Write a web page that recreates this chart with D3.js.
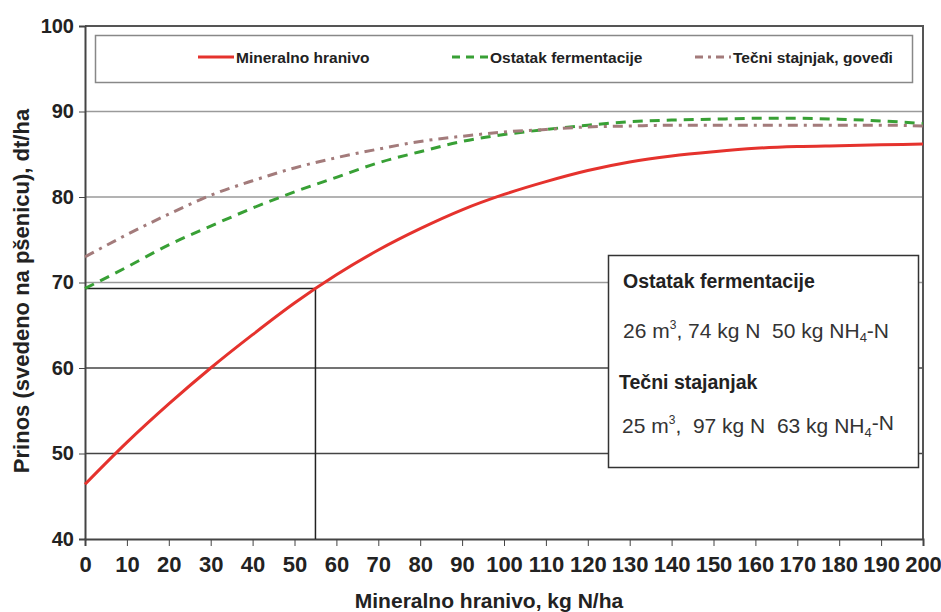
<!DOCTYPE html>
<html>
<head>
<meta charset="utf-8">
<script src="https://cdn.jsdelivr.net/npm/d3@7"></script>
<style>
  body { margin: 0; background: #fff; }
  svg { font-family: "Liberation Sans", Arial, sans-serif; }
  .narrow { font-family: "Liberation Sans Narrow", "Liberation Sans", Arial, sans-serif; }
</style>
</head>
<body>
<div id="chart"></div>
<script>
// podaci ocitani sa slike
var doze = [0, 10, 20, 30, 40, 50, 60, 70, 80, 90, 100, 110, 120, 130, 140, 150, 160, 170, 180, 190, 200];
var mineralno = [46.4, 51.3, 55.8, 60.0, 63.9, 67.6, 70.9, 73.8, 76.3, 78.5, 80.3, 81.8, 83.1, 84.1, 84.8, 85.3, 85.7, 85.9, 86.0, 86.1, 86.2];
var ostatak = [69.3, 71.8, 74.4, 76.6, 78.7, 80.6, 82.3, 84.0, 85.3, 86.5, 87.3, 87.9, 88.4, 88.8, 89.0, 89.1, 89.2, 89.2, 89.1, 88.9, 88.6];
var stajnjak = [73.0, 75.6, 78.0, 80.2, 81.9, 83.4, 84.6, 85.6, 86.5, 87.1, 87.6, 87.9, 88.2, 88.3, 88.4, 88.4, 88.4, 88.4, 88.4, 88.4, 88.3];
var nazivi = ["Mineralno hranivo", "Ostatak fermentacije", "Tečni stajnjak, goveđi"];
var xTicks = d3.range(0, 201, 10);
var yTicks = [40, 50, 60, 70, 80, 90, 100];
var refX = 55, refY = 69.3;

var width = 941, height = 612;
var margin = {top: 26, right: 18, bottom: 73, left: 85};

var svg = d3.select("#chart").append("svg")
  .attr("width", width)
  .attr("height", height);

var x = d3.scaleLinear().domain([0, 200]).range([margin.left, width - margin.right]);
var y = d3.scaleLinear().domain([40, 100]).range([height - margin.bottom, margin.top]);

// mreza
svg.append("g")
  .selectAll("line")
  .data(yTicks.filter(function(d){ return d > 40 && d < 100; }))
  .enter().append("line")
  .attr("x1", x(0)).attr("x2", x(200))
  .attr("y1", function(d){ return y(d); })
  .attr("y2", function(d){ return y(d); })
  .style("stroke", function(d){ return d <= 60 ? "#444" : "#9a9a9a"; })
  .style("stroke-width", 1.5);

// okvir gore i desno
svg.append("path")
  .attr("d", "M" + x(0) + "," + y(100) + "H" + x(200) + "V" + y(40))
  .style("fill", "none")
  .style("stroke", "#555")
  .style("stroke-width", 2);

// osovine
var yAxis = svg.append("g")
  .attr("transform", "translate(" + x(0) + ",0)")
  .call(d3.axisLeft(y).tickValues(yTicks).tickSize(6).tickPadding(5).tickFormat(d3.format("d")));
yAxis.select(".domain").style("stroke", "#444").style("stroke-width", 2);
yAxis.selectAll(".tick line").style("stroke", "#444");
yAxis.selectAll("text")
  .style("font-size", "20px").style("font-weight", "bold").style("fill", "#222");

var xAxis = svg.append("g")
  .attr("transform", "translate(0," + y(40) + ")")
  .call(d3.axisBottom(x).tickValues(xTicks).tickSize(7).tickPadding(10).tickFormat(d3.format("d")));
xAxis.select(".domain").style("stroke", "#444").style("stroke-width", 2);
xAxis.selectAll(".tick line").style("stroke", "#444");
xAxis.selectAll("text")
  .attr("class", "narrow")
  .style("font-size", "22px").style("font-weight", "bold").style("fill", "#222");

// nazivi osovina
svg.append("text")
  .attr("class", "narrow")
  .attr("x", 489).attr("y", 608)
  .attr("text-anchor", "middle")
  .style("font-size", "21px").style("font-weight", "bold").style("fill", "#222")
  .text("Mineralno hranivo, kg N/ha");

svg.append("text")
  .attr("transform", "translate(29,291) rotate(-90)")
  .attr("text-anchor", "middle")
  .style("font-size", "22px").style("font-weight", "bold").style("fill", "#222")
  .text("Prinos (svedeno na pšenicu), dt/ha");

// pomocne linije za 55 kg N
svg.append("path")
  .attr("d", "M" + x(0) + "," + y(refY) + "H" + x(refX) + "V" + y(40))
  .style("fill", "none")
  .style("stroke", "#222")
  .style("stroke-width", 1.5);

// krive
var serije = [
  {ime: nazivi[0], vrednosti: mineralno, boja: "#e5322d", crta: null},
  {ime: nazivi[1], vrednosti: ostatak, boja: "#38a035", crta: "10,7"},
  {ime: nazivi[2], vrednosti: stajnjak, boja: "#a37b7b", crta: "10,6,3,6"}
];

var linija = d3.line()
  .x(function(d, i){ return x(doze[i]); })
  .y(function(d){ return y(d); })
  .curve(d3.curveMonotoneX);

svg.selectAll(".kriva")
  .data(serije)
  .enter().append("path")
  .attr("class", "kriva")
  .attr("d", function(d){ return linija(d.vrednosti); })
  .style("fill", "none")
  .style("stroke", function(d){ return d.boja; })
  .style("stroke-width", 3)
  .style("stroke-dasharray", function(d){ return d.crta; });

// legenda
svg.append("rect")
  .attr("x", 95.5).attr("y", 35.5).attr("width", 817).attr("height", 47)
  .style("fill", "#fff").style("stroke", "#888").style("stroke-width", 1.5);

var legX = [198, 452, 695];
var leg = svg.selectAll(".leg")
  .data(serije)
  .enter().append("g")
  .attr("class", "leg")
  .attr("transform", function(d, i){ return "translate(" + legX[i] + ",57)"; });
leg.append("line")
  .attr("x1", 0).attr("x2", 36).attr("y1", 0).attr("y2", 0)
  .style("stroke", function(d){ return d.boja; })
  .style("stroke-width", 3)
  .style("stroke-dasharray", function(d){ return d.crta ? (d.crta === "10,7" ? "8,6" : "8,5,3,5") : null; });
leg.append("text")
  .attr("x", 38).attr("y", 5.5)
  .style("font-size", "15.5px").style("font-weight", "bold").style("fill", "#222")
  .text(function(d){ return d.ime; });

// okvir sa informacijama
svg.append("rect")
  .attr("x", 608.5).attr("y", 255.5).attr("width", 310).attr("height", 212)
  .style("fill", "#fff").style("stroke", "#333").style("stroke-width", 1.5);

var nb = "\u00a0";
var info = svg.append("g").style("fill", "#222");
info.append("text").attr("x", 623).attr("y", 288)
  .style("font-size", "19.5px").style("font-weight", "bold")
  .text("Ostatak fermentacije");
var t1 = info.append("text").attr("x", 623).attr("y", 338).style("font-size", "21px").style("fill", "#333");
t1.append("tspan").text("26 m");
t1.append("tspan").attr("dy", -9).style("font-size", "12px").text("3");
t1.append("tspan").attr("dy", 9).text(", 74 kg N" + nb + nb + "50 kg NH");
t1.append("tspan").attr("dy", 4).style("font-size", "13px").text("4");
t1.append("tspan").attr("dy", -4).text("-N");

info.append("text").attr("x", 619).attr("y", 389)
  .style("font-size", "19.5px").style("font-weight", "bold")
  .text("Tečni stajanjak");
var t2 = info.append("text").attr("x", 622).attr("y", 433).style("font-size", "21px").style("fill", "#333");
t2.append("tspan").text("25 m");
t2.append("tspan").attr("dy", -9).style("font-size", "12px").text("3");
t2.append("tspan").attr("dy", 9).text("," + nb + nb + "97 kg N" + nb + nb + "63 kg NH");
t2.append("tspan").attr("dy", 4).style("font-size", "13px").text("4");
t2.append("tspan").attr("dy", -7).text("-N");
</script>
</body>
</html>
